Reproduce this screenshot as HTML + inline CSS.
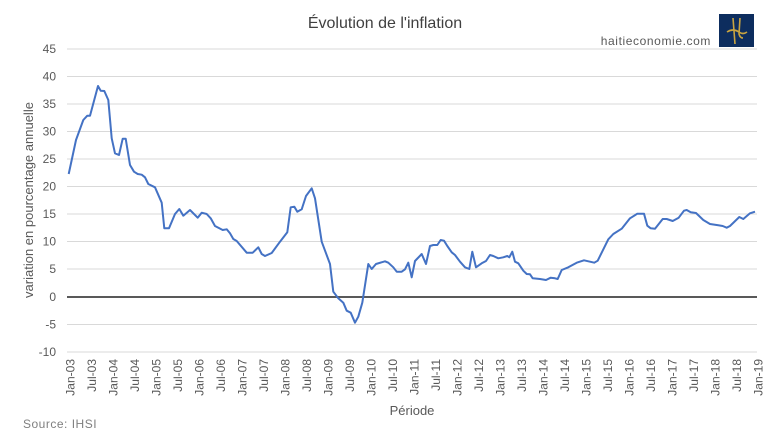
<!DOCTYPE html>
<html><head><meta charset="utf-8"><style>
body{margin:0;background:#fff;}
svg{display:block;font-family:"Liberation Sans",sans-serif;}
</style></head><body>
<svg width="771" height="435" viewBox="0 0 771 435" xmlns="http://www.w3.org/2000/svg">
<rect width="771" height="435" fill="#fff"/>
<text x="385" y="28" text-anchor="middle" font-size="16" fill="#404040">Évolution de l'inflation</text>
<text x="711" y="45" text-anchor="end" font-size="12" fill="#595959" letter-spacing="0.6">haitieconomie.com</text>
<rect x="719" y="14" width="35" height="33" fill="#0d2d5e"/>
<path d="M727 32 q6-4 12 0 q4 3 8 0 M733 18 l2 26 M740 18 l-1 16 q1 4 4 4" stroke="#c9a440" stroke-width="1.6" fill="none"/>
<g stroke="#d9d9d9" stroke-width="1">
<line x1="67" x2="757" y1="49" y2="49"/><line x1="67" x2="757" y1="76.5" y2="76.5"/>
<line x1="67" x2="757" y1="104" y2="104"/><line x1="67" x2="757" y1="131.5" y2="131.5"/>
<line x1="67" x2="757" y1="159" y2="159"/><line x1="67" x2="757" y1="186.5" y2="186.5"/>
<line x1="67" x2="757" y1="214" y2="214"/><line x1="67" x2="757" y1="241.5" y2="241.5"/>
<line x1="67" x2="757" y1="269" y2="269"/><line x1="67" x2="757" y1="324.5" y2="324.5"/>
<line x1="67" x2="757" y1="352" y2="352"/>
</g>
<line x1="67" x2="757" y1="297" y2="297" stroke="#595959" stroke-width="2"/>
<g font-size="12" fill="#595959" text-anchor="end">
<text x="56" y="53">45</text><text x="56" y="80.5">40</text><text x="56" y="108">35</text>
<text x="56" y="135.5">30</text><text x="56" y="163">25</text><text x="56" y="190.5">20</text>
<text x="56" y="218">15</text><text x="56" y="245.5">10</text><text x="56" y="273">5</text>
<text x="56" y="301">0</text><text x="56" y="328.5">-5</text><text x="56" y="356">-10</text>
</g>
<g font-size="12" fill="#595959" text-anchor="end">
<text transform="translate(74.5,359) rotate(-90)">Jan-03</text>
<text transform="translate(96,359) rotate(-90)">Jul-03</text>
<text transform="translate(117.5,359) rotate(-90)">Jan-04</text>
<text transform="translate(139,359) rotate(-90)">Jul-04</text>
<text transform="translate(160.5,359) rotate(-90)">Jan-05</text>
<text transform="translate(182,359) rotate(-90)">Jul-05</text>
<text transform="translate(203.5,359) rotate(-90)">Jan-06</text>
<text transform="translate(225,359) rotate(-90)">Jul-06</text>
<text transform="translate(246.5,359) rotate(-90)">Jan-07</text>
<text transform="translate(268,359) rotate(-90)">Jul-07</text>
<text transform="translate(289.5,359) rotate(-90)">Jan-08</text>
<text transform="translate(311,359) rotate(-90)">Jul-08</text>
<text transform="translate(332.5,359) rotate(-90)">Jan-09</text>
<text transform="translate(354,359) rotate(-90)">Jul-09</text>
<text transform="translate(375.5,359) rotate(-90)">Jan-10</text>
<text transform="translate(397,359) rotate(-90)">Jul-10</text>
<text transform="translate(418.5,359) rotate(-90)">Jan-11</text>
<text transform="translate(440,359) rotate(-90)">Jul-11</text>
<text transform="translate(461.5,359) rotate(-90)">Jan-12</text>
<text transform="translate(483,359) rotate(-90)">Jul-12</text>
<text transform="translate(504.5,359) rotate(-90)">Jan-13</text>
<text transform="translate(526,359) rotate(-90)">Jul-13</text>
<text transform="translate(547.5,359) rotate(-90)">Jan-14</text>
<text transform="translate(569,359) rotate(-90)">Jul-14</text>
<text transform="translate(590.5,359) rotate(-90)">Jan-15</text>
<text transform="translate(612,359) rotate(-90)">Jul-15</text>
<text transform="translate(633.5,359) rotate(-90)">Jan-16</text>
<text transform="translate(655,359) rotate(-90)">Jul-16</text>
<text transform="translate(676.5,359) rotate(-90)">Jan-17</text>
<text transform="translate(698,359) rotate(-90)">Jul-17</text>
<text transform="translate(719.5,359) rotate(-90)">Jan-18</text>
<text transform="translate(741,359) rotate(-90)">Jul-18</text>
<text transform="translate(762.5,359) rotate(-90)">Jan-19</text>
</g>
<text transform="translate(33,200) rotate(-90)" text-anchor="middle" font-size="13" fill="#595959">variation en pourcentage annuelle</text>
<text x="412" y="415" text-anchor="middle" font-size="13" fill="#595959">Période</text>
<text x="23" y="428" font-size="12" fill="#7f7f7f" letter-spacing="0.5">Source: IHSI</text>
<polyline fill="none" stroke="#4472c4" stroke-width="2" stroke-linejoin="round" points="
68.7,174 76,140 83.3,120 87.3,115.7 90,115.7 98,86 100.7,90.7 104.3,91 108.3,100 111.7,138.3 115,153.3 119,155 122.7,138.7 125.7,138.7 130,165 134,171.7 137.7,174 141.7,174.7 145,177.3 148.3,184 155,187.3 161.7,202.7 164.3,228.3 169,228.3 175,214 179.3,209 183.3,215.7 190,210 197.7,217.7 201.7,212.7 206.7,214 210.7,218.3 215,226 222.7,230 226.7,229.3 230,233.3 233.3,239 236.7,241 246.7,252.7 252.7,252.7 258.3,247.3 261.7,254 265,256 271.7,253 280,241.7 287.3,232.3 290.7,207.3 294.3,206.7 297.3,211.7 301.7,209.3 306,196 311.7,188.3 315,198.3 321.7,241.7 330,264 333.3,291.7 338.3,298.3 343.3,302.7 346.7,310.7 350.7,312.7 355,322.7 358.3,316.7 362.3,302.7 368.3,264 371.7,269 376,264 385,261.3 388.3,262.7 393.3,267.3 396.7,271.7 401.7,271.7 405,269.3 408.3,262.7 411.7,277.3 415,261 421.7,254 426,264 430,246 433.3,245 437.3,245 440.7,240 444,240.7 447.3,246 451.7,252.3 455,255 460,261.7 465,267.3 469.3,269 472.3,251.7 476,267.3 481.7,263.3 486,261 490,255 493.3,256 498.3,258.3 503.3,257.3 507.3,256 509.3,257.3 512.3,251.7 515,261.7 518.3,263.3 523.3,270.7 526.7,274 530,274.3 532.7,278.3 540,279 546,280 550.7,277.7 555,278.3 557.7,279 561.7,270 568.3,267.3 576.7,262.7 584,260.3 590,261.7 594.3,262.7 597.7,260.7 608.3,239.3 613.3,234 621.7,228.7 630,218.3 637.3,213.7 644,213.7 647.3,225.7 650.7,228.3 655,228.7 662.7,219 666.7,219 672.7,221 678.7,217.7 684,210.7 686.7,210 690.7,212.3 696,213 703.3,220 710,224 718.3,225.3 722.7,226 726.7,227.7 730,226 739.3,217 743.3,219 750,213.3 755,211.7"/>
</svg>
</body></html>
